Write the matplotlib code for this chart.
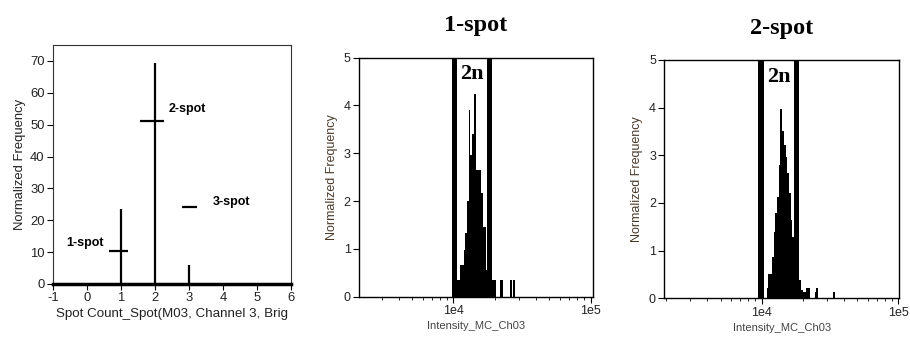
import numpy as np
import matplotlib
matplotlib.use('Agg')
import matplotlib.pyplot as plt
from matplotlib.ticker import LogLocator, FixedLocator, FixedFormatter, NullFormatter

plt.rcParams['font.family'] = ['Liberation Sans', 'DejaVu Sans']
plt.rcParams['font.size'] = 9
plt.rcParams['axes.unicode_minus'] = False

# --- panel 1: spot count histogram ---
spot_count = [1, 2, 3, 4]
spot_freq = [23.5, 69.5, 6.0, 0.3]
gate_names = ['1-spot', '2-spot', '3-spot']
gate_y = [10.5, 51.0, 24.3]
gate_x0 = [0.65, 1.57, 2.80]
gate_x1 = [1.22, 2.27, 3.24]
label_x = [-0.07, 2.94, 4.26]
label_y = [12.9, 55.0, 25.6]

# --- panels 2, 3: intensity histograms (log10 bins of 0.0125 from 3.9875) ---
hist_1spot = [1.5, 0, 0, 0.35, 0.35, 0.66, 0.66, 0.98, 1.33, 2.0, 3.9, 2.96,
              3.4, 4.25, 2.65, 2.65, 2.65, 2.16, 1.46, 1.46, 0.56, 0.35, 0.35,
              0.35, 0.35, 0.35, 0, 0, 0.35, 0.35, 0, 0, 0, 0, 0.35, 0, 0.35]
hist_2spot = [0, 0, 0, 0, 0.21, 0.52, 0.52, 0.87, 1.4, 1.78, 2.13, 2.8, 3.98,
              3.5, 3.21, 2.97, 2.62, 2.2, 1.64, 1.29, 0.8, 0.5, 0.5, 0.38, 0.17,
              0.14, 0.14, 0.22, 0.22, 0, 0, 0, 0.13, 0.22, 0, 0, 0, 0, 0, 0, 0,
              0, 0, 0.13]
gates_1spot = [(9840, 10690), (17700, 19230)]
gates_2spot = [(9440, 10400), (17220, 18840)]

W, H = 910, 345
fig = plt.figure(figsize=(W / 100, H / 100), dpi=100)

txt = '#222222'

# ---------------- panel 1 ----------------
ax1 = fig.add_axes([53 / W, (H - 284) / H, 238 / W, 239 / H])
ax1.vlines(spot_count, 0, spot_freq, colors='black', linewidth=1.6)
ax1.hlines(gate_y, gate_x0, gate_x1, colors='black', linewidth=1.6)
for name, x, y in zip(gate_names, label_x, label_y):
    ax1.text(x, y, name, ha='center', va='center', fontweight='bold', fontsize=9)
ax1.set_xlim(-1, 6)
ax1.set_ylim(0, 75)
ax1.set_xticks(range(-1, 7))
ax1.set_yticks(range(0, 71, 10))
ax1.set_xlabel('Spot Count_Spot(M03, Channel 3, Brig', fontsize=9.6, color=txt, labelpad=3)
ax1.set_ylabel('Normalized Frequency', fontsize=9.4, color=txt, labelpad=3)
ax1.tick_params(direction='out', length=4, labelsize=9.4, labelcolor=txt, pad=2)
ax1.spines['bottom'].set_linewidth(2.5)
for s in ['top', 'right', 'left']:
    ax1.spines[s].set_linewidth(0.8)
    ax1.spines[s].set_color('#333333')


def intensity_panel(rect, heights, gates, xlim, title):
    ax = fig.add_axes(rect)
    edges = 10 ** (3.9875 + 0.0125 * np.arange(len(heights) + 1))
    ax.bar(edges[:-1], heights, width=np.diff(edges), align='edge',
           color='black', edgecolor='none', linewidth=0)
    for g0, g1 in gates:
        ax.axvspan(g0, g1, color='black', lw=0)
    ax.set_xscale('log')
    ax.set_xlim(*xlim)
    ax.set_ylim(0, 5)
    ax.xaxis.set_major_locator(FixedLocator([1e4, 1e5]))
    ax.xaxis.set_major_formatter(FixedFormatter(['1e4', '1e5']))
    ax.xaxis.set_minor_locator(LogLocator(base=10, subs=np.arange(2, 10)))
    ax.xaxis.set_minor_formatter(NullFormatter())
    ax.set_yticks(range(0, 6))
    ax.tick_params(which='major', direction='out', length=4, labelsize=9,
                   labelcolor=txt, pad=2)
    ax.tick_params(which='minor', direction='out', length=2.5)
    ax.set_xlabel('Intensity_MC_Ch03', fontsize=8, color='#444444', labelpad=3)
    ax.set_ylabel('Normalized Frequency', fontsize=9, color='#4a3a2a', labelpad=4)
    ax.set_title(title, fontsize=17.5, fontweight='bold', family='Liberation Serif', pad=19)
    gx = np.sqrt(gates[0][1] * gates[1][0])
    ax.text(gx, 4.65, '2n', ha='center', va='center', fontsize=16,
            fontweight='bold', family='Liberation Serif')
    for s in ax.spines.values():
        s.set_linewidth(1.0)
    return ax


intensity_panel([359 / W, (H - 296.7) / H, 233.7 / W, 239 / H],
                hist_1spot, gates_1spot, (2056, 103500), '1-spot')
intensity_panel([664.3 / W, (H - 298.3) / H, 235 / W, 238.3 / H],
                hist_2spot, gates_2spot, (1940, 101600), '2-spot')

fig.savefig('out.png', dpi=100)
